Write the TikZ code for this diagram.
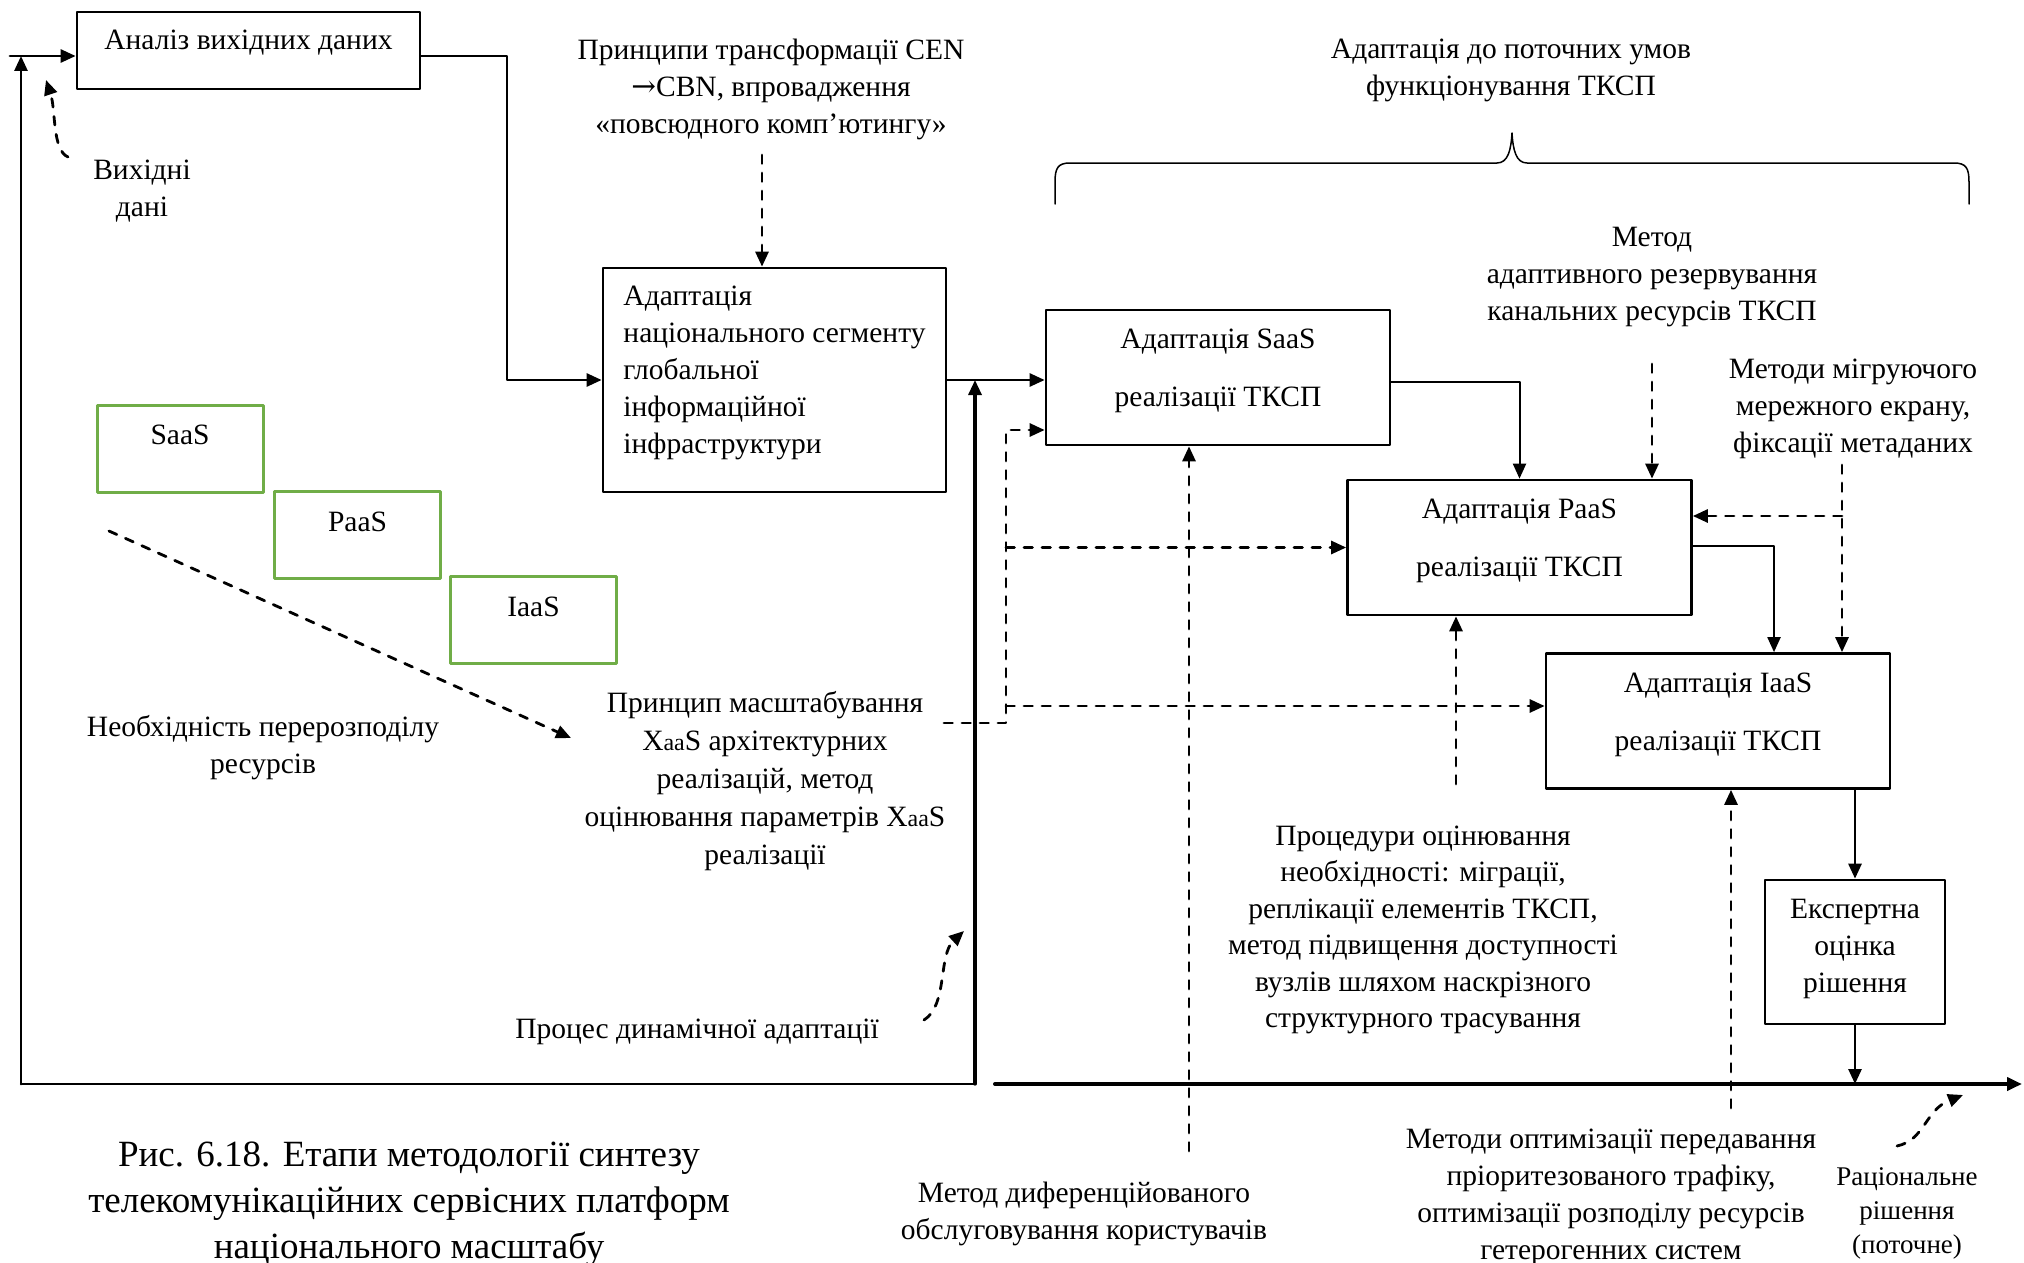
\documentclass[tikz,border=0pt]{standalone}
\usepackage{fontspec}
\setmainfont{Liberation Serif}
\newfontfamily\strilka{DejaVu Serif}
\usetikzlibrary{arrows.meta}
\definecolor{xgreen}{HTML}{70AD47}

\begin{document}
\begin{tikzpicture}[x=1pt, y=-1pt, line width=2.7pt, line cap=round, line join=round,
  >={Triangle[length=15pt,width=13pt]},
  txt/.style={align=center, inner sep=0pt, font=\fontsize{29.5}{37}\selectfont},
  blok/.style={draw, line width=2.7pt, inner sep=0pt, font=\fontsize{29.5}{37}\selectfont},
  adblok/.style={blok, minimum width=344pt, minimum height=135pt, align=center,
    font=\fontsize{29.5}{58}\selectfont, text depth=19pt},
  zelen/.style={draw=xgreen, line width=3pt, minimum width=166pt, minimum height=87pt, inner sep=0pt,
    font=\fontsize{29.5}{37}\selectfont, text depth=27pt},
  shtrikh/.style={dash pattern=on 8.5pt off 9.5pt, line width=2.8pt},
]

  %% ════ блоки ════
  \node[blok, minimum width=343pt, minimum height=77pt, text depth=22pt] (analiz) at (248.5,50.5) {Аналіз вихідних даних};
  \node[blok, minimum width=343pt, minimum height=224pt, align=left, text depth=20pt] (nacseg) at (774.5,380)
    {Адаптація\\національного сегменту\\глобальної\\інформаційної\\інфраструктури};
  \node[adblok] (saas) at (1218,377.5) {Адаптація SaaS\\реалізації ТКСП};
  \node[adblok] (paas) at (1519.5,547.5) {Адаптація PaaS\\реалізації ТКСП};
  \node[adblok] (iaas) at (1718,721) {Адаптація IaaS\\реалізації ТКСП};
  \node[blok, minimum width=180pt, minimum height=144pt, align=center, text depth=12pt] (ekspert) at (1855,952) {Експертна\\оцінка\\рішення};

  %% ════ зелені рамки ════
  \node[zelen] (gsaas) at (180,448.5) {SaaS};
  \node[zelen] (gpaas) at (357.5,535) {PaaS};
  \node[zelen] (giaas) at (533.5,620) {IaaS};

  %% ════ підписи ════
  \node[txt] (pryntsypy) at (771,89) {Принципи трансформації CEN\\{\strilka →}CBN, впровадження\\«повсюдного комп’ютингу»};
  \node[txt] (vkhdani) at (142,191) {Вихідні\\дані};
  \node[txt] (adapttksp) at (1511,70) {Адаптація до поточних умов\\функціонування ТКСП};
  \node[txt] (metodrez) at (1652,277) {Метод\\адаптивного резервування\\канальних ресурсів ТКСП};
  \node[txt] (metodmigr) at (1853,409) {Методи мігруючого\\мережного екрану,\\фіксації метаданих};
  \node[txt] (neobkh) at (263,748) {Необхідність перерозподілу\\ресурсів};
  \node[txt, font=\fontsize{29.5}{38}\selectfont] (masshtab) at (765,781) {Принцип масштабування\\X{\fontsize{24}{38}\selectfont aa}S архітектурних\\реалізацій, метод\\оцінювання параметрів X{\fontsize{24}{38}\selectfont aa}S\\реалізації};
  \node[txt] (protses) at (697,1032) {Процес динамічної адаптації};
  \node[txt, font=\fontsize{29.5}{36.5}\selectfont] (protsedury) at (1423,930) {Процедури оцінювання\\необхідності: міграції,\\реплікації елементів ТКСП,\\метод підвищення доступності\\вузлів шляхом наскрізного\\структурного трасування};
  \node[txt] (metodoptym) at (1611,1197) {Методи оптимізації передавання\\пріоритезованого трафіку,\\оптимізації розподілу ресурсів\\гетерогенних систем};
  \node[txt, font=\fontsize{27}{34}\selectfont] (ratsional) at (1907,1213) {Раціональне\\рішення\\(поточне)};
  \node[txt] (metoddyf) at (1084,1214) {Метод диференційованого\\обслуговування користувачів};
  \node[txt, font=\fontsize{37}{46}\selectfont] (pidpys) at (409,1204) {Рис. 6.18. Етапи методології синтезу\\телекомунікаційних сервісних платформ\\національного масштабу};

  %% ════ опорні точки ════
  \coordinate (vkhid) at (10,56);
  \coordinate (kut) at (21,1084);
  \coordinate (rozryv) at (975,1084);
  \coordinate (pravyi) at (995,1084);
  \coordinate (kinets) at (2022,1084);
  \coordinate (povorot) at (507,56);
  \coordinate (prT) at (762,155);
  \coordinate (rez) at (1652,364);
  \coordinate (migr) at (1842,465);
  \coordinate (migrB) at (1842,516);
  \coordinate (masL) at (944,723);
  \coordinate (masV) at (1006,723);
  \coordinate (masS) at (1006,430);
  \coordinate (masI) at (1006,706);
  \coordinate (dyf) at (1189,1151);
  \coordinate (prots) at (1456,784);
  \coordinate (optym) at (1731,1108);
  \coordinate (diagA) at (109,531);
  \coordinate (diagB) at (571,738);

  %% ════ суцільні лінії ════
  \draw[->] (vkhid) -- (vkhid -| analiz.west);
  \draw[->] (kut) -- (kut |- vkhid);
  \draw[line width=2.2pt] (kut) -- (rozryv);
  \draw[->, line width=4pt] (pravyi) -- (kinets);
  \draw[->] (vkhid -| analiz.east) -- (povorot) |- (nacseg.west);
  \draw[->] (nacseg.east) -- (nacseg.east -| saas.west);
  \draw[->, line width=3.2pt] (rozryv) -- (rozryv |- nacseg.east);
  \draw[->, line width=2pt] ([yshift=-4.5pt]saas.east) -| (paas.north);
  \draw[->, line width=2pt] ([yshift=1.5pt]paas.east) -| ([xshift=56pt]iaas.north);
  \draw[->] (ekspert.north |- iaas.south) -- (ekspert.north);
  \draw[->] (ekspert.south) -- (ekspert.south |- kinets);

  %% ════ штрихові лінії ════
  \draw[shtrikh, ->] (prT) -- (prT |- nacseg.north);
  \draw[shtrikh, ->] (rez) -- (rez |- paas.north);
  \draw[shtrikh, ->] (migr) -- (migr |- iaas.north);
  \draw[shtrikh, ->] (migrB) -- (migrB -| paas.east);
  \draw[shtrikh, ->] (masL) -- (masV) -- (masS) -- (masS -| saas.west);
  \draw[shtrikh, ->] (masV |- paas.west) -- (paas.west);
  \draw[shtrikh, ->] (masI) -- (masI -| iaas.west);
  \draw[shtrikh, ->] (dyf) -- (dyf |- saas.south);
  \draw[shtrikh, ->] (prots) -- (prots |- paas.south);
  \draw[shtrikh, ->] (optym) -- (optym |- iaas.south);
  \draw[shtrikh, ->] (diagA) -- (diagB);

  %% ════ вигнуті стрілки ════
  \draw[shtrikh, ->] (68,157) .. controls (52,150) and (56,110) .. (46,80);
  \draw[shtrikh, ->] (924,1020) .. controls (948,1005) and (938,955) .. (964,931);
  \draw[shtrikh, ->] (1897,1146) .. controls (1925,1140) and (1925,1110) .. (1963,1095);

  %% ════ фігурна дужка ════
  \draw[line width=1.5pt] (1055,204) -- (1055,182) .. controls (1055,168) and (1058,163) .. (1070,163) -- (1497,163)
    .. controls (1508,163) and (1511,150) .. (1512,133) .. controls (1513,150) and (1516,163) .. (1527,163)
    -- (1954,163) .. controls (1966,163) and (1969,168) .. (1969,182) -- (1969,204);

  \pgfresetboundingbox
  \path[use as bounding box] (0,0) rectangle (2024,1263);
\end{tikzpicture}
\end{document}
